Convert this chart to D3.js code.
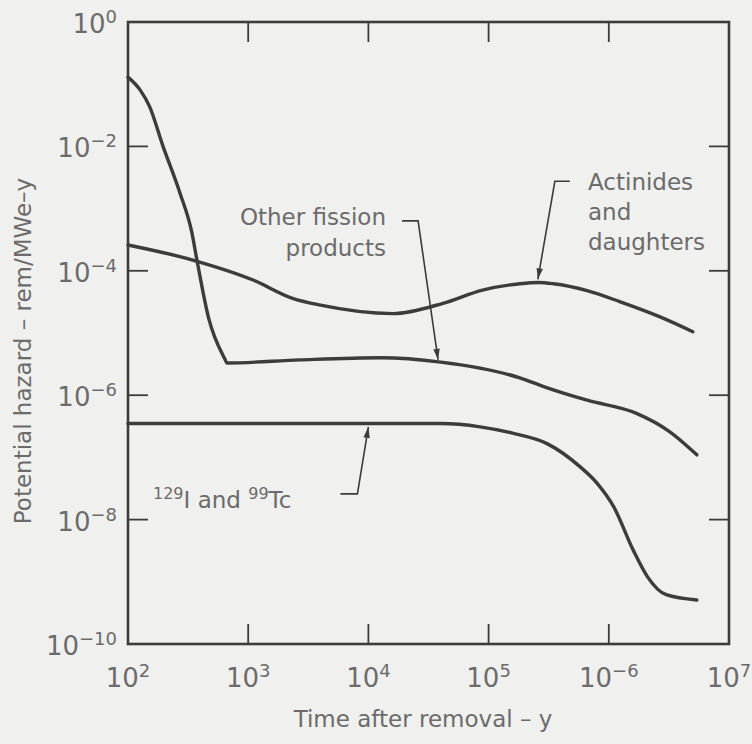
<!DOCTYPE html>
<html>
<head>
<meta charset="utf-8">
<script src="https://cdn.jsdelivr.net/npm/d3@7"></script>
<style>
  html, body { margin: 0; padding: 0; background: #f0f0ee; }
  svg { display: block; }
  text { font-family: "DejaVu Sans", sans-serif; fill: #6b6b6b; }
</style>
</head>
<body>
<svg id="chart" width="752" height="744"></svg>
<script>
// Axis ticks (decades) and the exponents printed beside them
const xTickValues = [1e2, 1e3, 1e4, 1e5, 1e6, 1e7];
const xTickExponents = ["2", "3", "4", "5", "\u22126", "7"];
const yTickValues = [1e0, 1e-2, 1e-4, 1e-6, 1e-8, 1e-10];
const yTickExponents = ["0", "\u22122", "\u22124", "\u22126", "\u22128", "\u221210"];

// Other fission products: time (y) and potential hazard (rem/MWe-y)
const fissionYears  = [100, 126, 151, 195, 270, 340, 372, 470, 640, 665, 2700, 12600, 40000, 182000, 295000, 660000, 1.7e6, 3.2e6, 5.4e6];
const fissionHazard = [1.3e-1, 8.1e-2, 4.4e-2, 1.02e-2, 1.8e-3, 4.1e-4, 1.6e-4, 1.7e-5, 3.8e-6, 3.3e-6, 3.7e-6, 4.0e-6, 3.4e-6, 1.9e-6, 1.35e-6, 8.3e-7, 5.1e-7, 2.6e-7, 1.1e-7];

// Actinides and daughters
const actinideYears  = [100, 363, 1100, 2340, 4000, 16000, 41700, 89000, 182000, 260000, 347000, 660000, 1.23e6, 2.7e6, 5.0e6];
const actinideHazard = [2.6e-4, 1.45e-4, 7.1e-5, 3.6e-5, 2.8e-5, 2.05e-5, 3.0e-5, 4.9e-5, 6.2e-5, 6.5e-5, 6.2e-5, 4.8e-5, 3.2e-5, 1.8e-5, 1.05e-5];

// 129I and 99Tc
const iodineYears  = [100, 1000, 10000, 40000, 85000, 158000, 309000, 575000, 794000, 1.1e6, 1.6e6, 2.1e6, 3.0e6, 5.4e6];
const iodineHazard = [3.5e-7, 3.5e-7, 3.5e-7, 3.5e-7, 3.1e-7, 2.45e-7, 1.65e-7, 7.1e-8, 3.9e-8, 1.6e-8, 3.2e-9, 1.2e-9, 6.2e-10, 5.1e-10];

const svg = d3.select("#chart");
const ink = "#3c3c3c";

const x = d3.scaleLog().domain([1e2, 1e7]).range([128, 729]);
const y = d3.scaleLog().domain([1e-10, 1e0]).range([644, 22]);

// Frame
svg.append("rect")
  .attr("x", x(1e2)).attr("y", y(1e0))
  .attr("width", x(1e7) - x(1e2)).attr("height", y(1e-10) - y(1e0))
  .attr("fill", "none").attr("stroke", ink).attr("stroke-width", 2.6);

// Inward decade ticks on all four sides
const tickLen = 20;
const innerX = xTickValues.slice(1, -1);
const innerY = yTickValues.slice(1, -1);
const tickG = svg.append("g").attr("stroke", ink).attr("stroke-width", 1.8);
tickG.selectAll(".tb").data(innerX).join("line")
  .attr("x1", d => x(d)).attr("x2", d => x(d))
  .attr("y1", y(1e-10)).attr("y2", y(1e-10) - tickLen);
tickG.selectAll(".tt").data(innerX).join("line")
  .attr("x1", d => x(d)).attr("x2", d => x(d))
  .attr("y1", y(1e0)).attr("y2", y(1e0) + tickLen);
tickG.selectAll(".tl").data(innerY).join("line")
  .attr("x1", x(1e2)).attr("x2", x(1e2) + tickLen)
  .attr("y1", d => y(d)).attr("y2", d => y(d));
tickG.selectAll(".tr").data(innerY).join("line")
  .attr("x1", x(1e7)).attr("x2", x(1e7) - tickLen)
  .attr("y1", d => y(d)).attr("y2", d => y(d));

// Tick labels written as powers of ten
const baseSize = 26, supSize = 18;
function powerLabel(sel, exp) {
  sel.append("tspan").attr("font-size", baseSize).text("10");
  sel.append("tspan").attr("font-size", supSize).attr("dy", -10).text(exp);
}
xTickValues.forEach((v, i) => {
  const t = svg.append("text")
    .attr("x", x(v)).attr("y", 687)
    .attr("text-anchor", "middle");
  powerLabel(t, xTickExponents[i]);
});
yTickValues.forEach((v, i) => {
  const t = svg.append("text")
    .attr("x", 117).attr("y", y(v) + 11)
    .attr("text-anchor", "end");
  powerLabel(t, yTickExponents[i]);
});

// Axis titles
svg.append("text")
  .attr("x", 423).attr("y", 727)
  .attr("text-anchor", "middle").attr("font-size", 23)
  .text("Time after removal \u2013 y");
svg.append("text")
  .attr("transform", "translate(31,351) rotate(-90)")
  .attr("text-anchor", "middle").attr("font-size", 23)
  .text("Potential hazard \u2013 rem/MWe\u2013y");

// Curves
const line = d3.line()
  .x(d => x(d[0])).y(d => y(d[1]))
  .curve(d3.curveMonotoneX);
const series = [
  d3.zip(fissionYears, fissionHazard),
  d3.zip(actinideYears, actinideHazard),
  d3.zip(iodineYears, iodineHazard)
];
svg.append("g").selectAll("path").data(series).join("path")
  .attr("d", line)
  .attr("fill", "none").attr("stroke", ink)
  .attr("stroke-width", 3.4).attr("stroke-linecap", "round").attr("stroke-linejoin", "round");

// Callout leaders: start point (px offset from elbow), elbow (px offset from tip), arrow tip on the curve
function leader(tipT, tipH, elbowDx, elbowDy, startDx, startDy) {
  const tx = x(tipT), ty = y(tipH);
  const ex = tx + elbowDx, ey = ty + elbowDy;
  const sx = ex + startDx, sy = ey + startDy;
  svg.append("path")
    .attr("d", `M${sx},${sy}L${ex},${ey}L${tx},${ty}`)
    .attr("fill", "none").attr("stroke", ink).attr("stroke-width", 1.6);
  const ang = Math.atan2(ty - ey, tx - ex);
  const L = 11, W = 3.2;
  const bx = tx - L * Math.cos(ang), by = ty - L * Math.sin(ang);
  const px = -Math.sin(ang) * W, py = Math.cos(ang) * W;
  svg.append("path")
    .attr("d", `M${tx},${ty}L${bx + px},${by + py}L${bx - px},${by - py}Z`)
    .attr("fill", ink);
}
leader(2.57e5, 7.3e-5, 17, -98, 15, 0);   // actinides
leader(3.8e4, 3.7e-6, -20, -139, -16, 0); // other fission products
leader(1.0e4, 3.1e-7, -11, 67, -17, 0);   // 129I and 99Tc

// Callout texts
const annSize = 23;
svg.append("text").attr("x", 588).attr("y", 190).attr("font-size", annSize).text("Actinides");
svg.append("text").attr("x", 588).attr("y", 220).attr("font-size", annSize).text("and");
svg.append("text").attr("x", 588).attr("y", 250).attr("font-size", annSize).text("daughters");
svg.append("text").attr("x", 386).attr("y", 225).attr("text-anchor", "end").attr("font-size", annSize).text("Other fission");
svg.append("text").attr("x", 386).attr("y", 256).attr("text-anchor", "end").attr("font-size", annSize).text("products");
const iso = svg.append("text").attr("x", 153).attr("y", 508).attr("font-size", annSize);
iso.append("tspan").attr("font-size", 16).attr("dy", -9).text("129");
iso.append("tspan").attr("dy", 9).text("I and ");
iso.append("tspan").attr("font-size", 16).attr("dy", -9).text("99");
iso.append("tspan").attr("dy", 9).text("Tc");
</script>
</body>
</html>
